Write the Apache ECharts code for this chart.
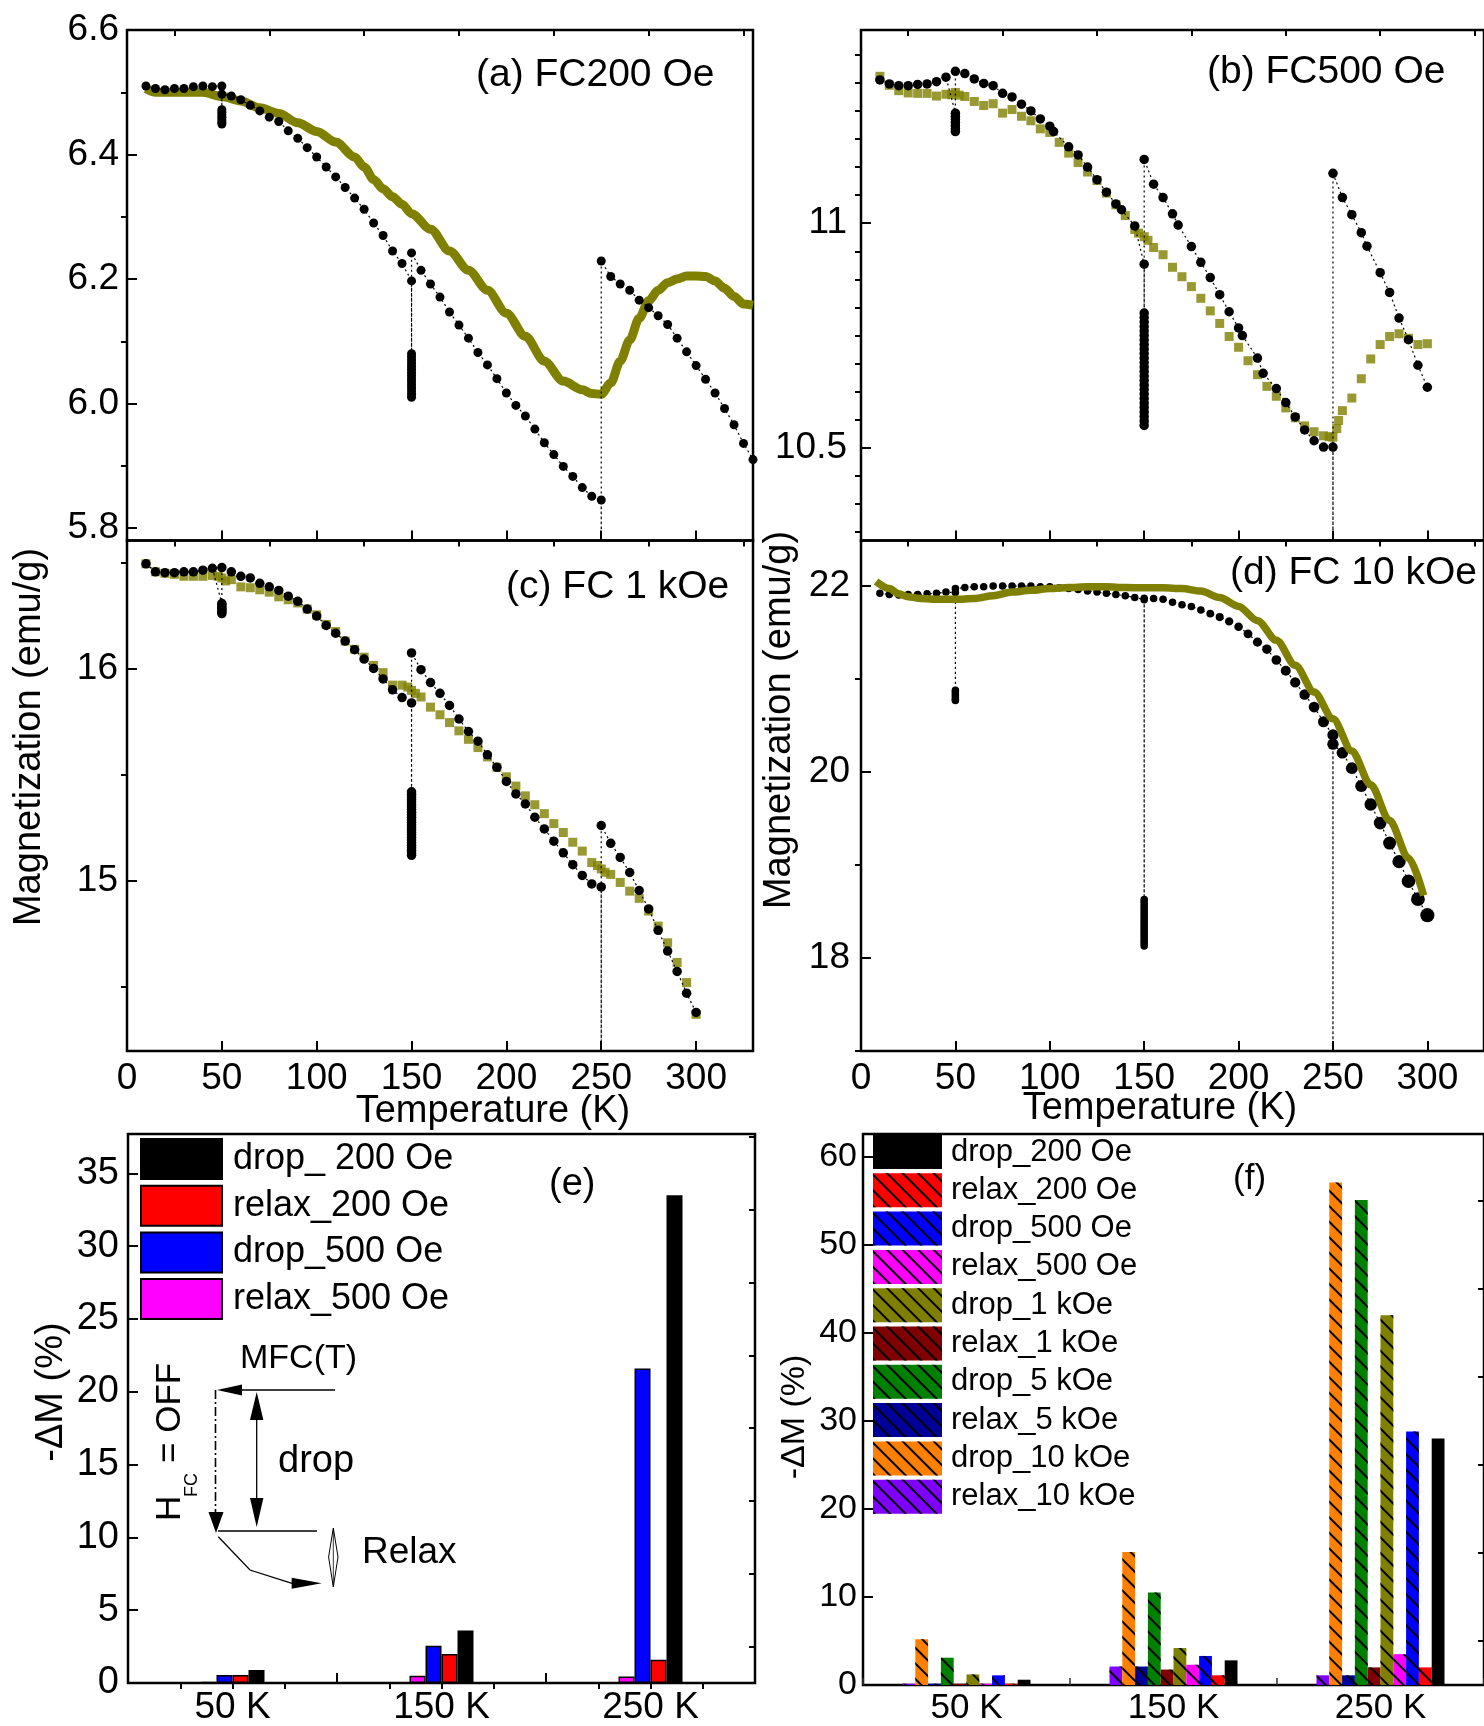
<!DOCTYPE html>
<html><head><meta charset="utf-8">
<script src="https://cdn.jsdelivr.net/npm/echarts@6/dist/echarts.min.js"></script>
<style>html,body{margin:0;padding:0;background:#fff}#c{width:1484px;height:1726px}</style>
</head><body><div id="c"></div><script>
// ---------------- DATA ----------------
// Panel (a) FC 200 Oe : [T (K), M (emu/g)]
const aMeasured = [[10,6.510],[15,6.506],[20,6.504],[25,6.506],[30,6.506],[35,6.509],[40,6.510],[45,6.509],[50,6.510],
 [50,6.472],[50,6.468],[50,6.464],[50,6.460],[50,6.456],[50,6.452],[50,6.449],[50,6.497],
 [55,6.494],[60,6.488],[65,6.479],[70,6.470],[75,6.460],[80,6.453],[85,6.438],[90,6.426],[95,6.411],[100,6.396],
 [105,6.380],[110,6.364],[115,6.347],[120,6.330],[125,6.312],[130,6.290],[135,6.270],[140,6.245],[145,6.225],[150,6.197],
 [150,6.080],[150,6.075],[150,6.070],[150,6.065],[150,6.060],[150,6.055],[150,6.050],[150,6.045],[150,6.040],[150,6.035],
 [150,6.030],[150,6.025],[150,6.020],[150,6.015],[150,6.010],[150,6.242],
 [155,6.214],[160,6.192],[165,6.171],[170,6.147],[175,6.126],[180,6.105],[185,6.082],[190,6.062],[195,6.040],[200,6.017],
 [205,5.997],[210,5.980],[215,5.959],[220,5.937],[225,5.918],[230,5.899],[235,5.883],[240,5.865],[245,5.851],[250,5.845],
 [250,5.760],[250,6.229],
 [255,6.204],[260,6.192],[265,6.182],[270,6.166],[275,6.154],[280,6.141],[285,6.127],[290,6.105],[295,6.083],[300,6.061],
 [305,6.039],[310,6.017],[315,5.992],[320,5.966],[325,5.936],[330,5.910]];
const aReference = [[10,6.506],[15,6.500],[20,6.500],[30,6.500],[40,6.500],[50,6.493],[60,6.486],[70,6.475],[80,6.466],[90,6.451],
 [100,6.437],[110,6.420],[120,6.396],[125,6.380],[130,6.360],[135,6.345],[140,6.332],[145,6.320],[150,6.305],[160,6.280],[170,6.245],
 [180,6.214],[190,6.182],[200,6.145],[210,6.108],[220,6.068],[230,6.036],[240,6.022],[245,6.016],[250,6.015],[255,6.033],
 [260,6.068],[265,6.102],[270,6.137],[275,6.165],[280,6.182],[285,6.194],[290,6.200],[295,6.205],[300,6.205],[305,6.204],
 [310,6.197],[315,6.185],[320,6.172],[325,6.160],[330,6.158]];

// Panel (b) FC 500 Oe
const bMeasured = [[10,11.319],[15,11.310],[20,11.306],[25,11.306],[30,11.309],[35,11.310],[40,11.315],[45,11.325],
 [50,11.245],[50,11.238],[50,11.231],[50,11.224],[50,11.217],[50,11.210],[50,11.204],[50,11.338],
 [55,11.333],[60,11.321],[65,11.311],[70,11.306],[75,11.289],[80,11.281],[85,11.265],[90,11.250],[95,11.232],[100,11.216],
 [102,11.204],[110,11.170],[115,11.152],[120,11.125],[125,11.097],[130,11.069],[135,11.043],[138,11.030],[145,10.994],[150,10.909],
 [150,10.800],[150,10.790],[150,10.780],[150,10.770],[150,10.760],[150,10.750],[150,10.740],[150,10.730],[150,10.720],[150,10.710],
 [150,10.700],[150,10.690],[150,10.680],[150,10.670],[150,10.660],[150,10.650],[150,10.640],[150,10.630],[150,10.620],[150,10.610],
 [150,10.600],[150,10.590],[150,10.580],[150,10.570],[150,10.560],[150,10.550],[150,11.142],
 [155,11.087],[160,11.057],[165,11.021],[168,10.996],[175,10.948],[180,10.913],[185,10.879],[190,10.841],[195,10.803],[200,10.767],
 [202,10.750],[210,10.700],[213,10.666],[220,10.632],[225,10.601],[230,10.569],[235,10.540],[240,10.516],[245,10.502],[250,10.502],
 [250,10.260],[250,11.111],
 [255,11.057],[260,11.019],[265,10.979],[268,10.949],[275,10.890],[280,10.846],[285,10.789],[290,10.741],[295,10.684],[300,10.635]];
const bReference = [[10,11.327],[15,11.307],[20,11.295],[25,11.290],[30,11.289],[35,11.289],[40,11.283],[45,11.287],[48,11.286],
 [50,11.291],[52,11.285],[55,11.282],[60,11.271],[65,11.262],[70,11.266],[75,11.245],[80,11.253],[85,11.238],[90,11.228],[95,11.210],
 [100,11.202],[105,11.180],[110,11.156],[115,11.135],[120,11.114],[125,11.095],[130,11.067],[135,11.041],[140,11.017],[145,10.986],
 [147,10.978],[150,10.970],[152,10.962],[155,10.946],[160,10.930],[165,10.902],[170,10.881],[175,10.859],[180,10.833],[185,10.805],
 [190,10.777],[195,10.748],[200,10.724],[205,10.694],[210,10.663],[215,10.637],[220,10.615],[225,10.589],[230,10.567],[235,10.549],
 [240,10.536],[245,10.527],[248,10.525],[250,10.524],[252,10.543],[253,10.561],[255,10.583],[260,10.611],[265,10.654],[270,10.698],
 [275,10.730],[280,10.748],[285,10.754],[290,10.744],[295,10.730],[300,10.732]];

// Panel (c) FC 1 kOe
const cMeasured = [[10,16.497],[15,16.459],[20,16.455],[25,16.455],[30,16.459],[35,16.459],[40,16.467],[45,16.476],
 [50,16.310],[50,16.302],[50,16.294],[50,16.286],[50,16.278],[50,16.270],[50,16.262],[50,16.479],
 [55,16.459],[60,16.438],[65,16.430],[70,16.405],[75,16.388],[80,16.371],[85,16.344],[90,16.320],[95,16.283],[100,16.250],
 [105,16.206],[110,16.169],[115,16.132],[120,16.091],[125,16.047],[130,16.003],[135,15.953],[140,15.902],[145,15.865],[150,15.840],
 [150,15.420],[150,15.408],[150,15.396],[150,15.384],[150,15.372],[150,15.360],[150,15.348],[150,15.336],[150,15.324],[150,15.312],
 [150,15.300],[150,15.288],[150,15.276],[150,15.264],[150,15.252],[150,15.240],[150,15.228],[150,15.216],[150,15.204],[150,15.192],
 [150,15.180],[150,15.168],[150,15.156],[150,15.144],[150,15.132],[150,15.120],[150,16.076],
 [155,15.997],[160,15.936],[165,15.885],[170,15.828],[175,15.764],[180,15.705],[185,15.659],[190,15.595],[195,15.536],[200,15.469],
 [205,15.410],[210,15.363],[215,15.300],[220,15.245],[225,15.187],[230,15.132],[235,15.076],[240,15.025],[245,14.985],[250,14.971],
 [250,14.100],[250,15.261],
 [255,15.177],[260,15.110],[265,15.039],[270,14.954],[275,14.867],[280,14.766],[285,14.668],[290,14.572],[295,14.469],[300,14.378]];
const cReference = [[10,16.497],[15,16.459],[20,16.452],[25,16.447],[30,16.438],[35,16.438],[40,16.438],[45,16.442],[48,16.438],
 [50,16.430],[52,16.416],[55,16.422],[60,16.388],[65,16.384],[70,16.374],[75,16.363],[80,16.341],[85,16.327],[90,16.312],[95,16.283],
 [100,16.256],[105,16.211],[110,16.177],[115,16.132],[120,16.093],[125,16.056],[130,16.017],[135,15.983],[140,15.924],[145,15.924],
 [148,15.915],[150,15.899],[152,15.885],[155,15.868],[160,15.820],[165,15.784],[170,15.747],[175,15.708],[180,15.668],[185,15.629],
 [190,15.585],[195,15.536],[200,15.491],[205,15.447],[210,15.401],[215,15.359],[220,15.317],[225,15.270],[230,15.228],[235,15.182],
 [240,15.140],[245,15.086],[248,15.072],[250,15.056],[252,15.040],[255,15.030],[260,14.992],[265,14.951],[270,14.917],[275,14.857],
 [280,14.786],[285,14.707],[290,14.614],[295,14.519],[300,14.369]];

// Panel (d) FC 10 kOe
const dMeasured = [[10,21.923],[15,21.908],[20,21.904],[25,21.908],[30,21.908],[35,21.916],[40,21.923],[45,21.935],[50,21.930],
 [50,20.880],[50,20.860],[50,20.840],[50,20.820],[50,20.800],[50,20.780],[50,20.770],[50,21.973],
 [55,21.985],[60,21.992],[65,21.992],[70,22.000],[75,22.000],[80,22.000],[85,22.000],[90,22.000],[95,21.992],[100,21.992],
 [105,21.981],[110,21.973],[115,21.962],[120,21.946],[125,21.935],[130,21.923],[135,21.908],[140,21.896],[145,21.877],[150,21.854],
 [150,18.630],[150,18.605],[150,18.580],[150,18.555],[150,18.530],[150,18.505],[150,18.480],[150,18.455],[150,18.430],[150,18.405],
 [150,18.380],[150,18.355],[150,18.330],[150,18.305],[150,18.280],[150,18.255],[150,18.230],[150,18.205],[150,18.180],[150,18.155],[150,18.130],
 [150,21.870],
 [155,21.866],[160,21.858],[165,21.827],[170,21.800],[175,21.781],[180,21.743],[185,21.704],[190,21.666],[195,21.620],[200,21.562],
 [205,21.486],[210,21.397],[215,21.321],[220,21.205],[225,21.090],[230,20.964],[235,20.833],[240,20.699],[245,20.541],[250,20.399],
 [250,16.900],[250,20.300],
 [255,20.207],[260,20.042],[265,19.850],[270,19.651],[275,19.451],[280,19.236],[285,19.036],[290,18.825],[295,18.633],[300,18.461]];
const dReference = [[8,22.050],[15,21.973],[20,21.916],[25,21.885],[30,21.870],[40,21.858],[50,21.858],[60,21.866],[70,21.896],
 [80,21.935],[90,21.954],[100,21.973],[110,21.985],[120,21.992],[130,21.992],[140,21.985],[150,21.981],[160,21.981],[170,21.973],
 [180,21.946],[190,21.877],[200,21.781],[210,21.628],[220,21.417],[230,21.148],[240,20.860],[250,20.572],[260,20.226],[270,19.862],
 [280,19.478],[290,19.075],[298,18.672]];

// Panel (e) -ΔM (%)
const barCategories = ['50 K', '150 K', '250 K'];
const eDrop200 = [0.9, 3.6, 33.5];
const eRelax200 = [0.55, 2.0, 1.6];
const eDrop500 = [0.55, 2.55, 21.6];
const eRelax500 = [0.08, 0.5, 0.45];

// Panel (f) -ΔM (%)
const fDrop200 = [0.6, 2.8, 28.0];
const fRelax200 = [0.15, 1.1, 2.0];
const fDrop500 = [1.1, 3.3, 28.8];
const fRelax500 = [0.15, 2.3, 3.5];
const fDrop1k = [1.2, 4.2, 42.0];
const fRelax1k = [0.15, 1.75, 2.0];
const fDrop5k = [3.1, 10.5, 55.1];
const fRelax5k = [0.15, 2.1, 1.1];
const fDrop10k = [5.2, 15.1, 57.1];
const fRelax10k = [0.15, 2.1, 1.1];

// Tick values
const tempTicks = [0, 50, 100, 150, 200, 250, 300];
const tempMinor = [25, 75, 125, 175, 225, 275, 325];
const aTicks = [5.8, 6.0, 6.2, 6.4, 6.6];
const aMinor = [5.9, 6.1, 6.3, 6.5];
const bTicks = [10.5, 11];
const bMinor = [10.3125, 10.375, 10.4375, 10.5625, 10.625, 10.6875, 10.75, 10.8125, 10.875, 10.9375,
  11.0625, 11.125, 11.1875, 11.25, 11.3125, 11.375];
const cTicks = [15, 16];
const cMinor = [14.5, 15.5, 16.5];
const dTicks = [18, 20, 22];
const dMinor = [17, 19, 21];
const eTicks = [0, 5, 10, 15, 20, 25, 30, 35];
const eMinor = [2.5, 7.5, 12.5, 17.5, 22.5, 27.5, 32.5, 37.5];
const eMinorX = [0.25, 0.5, 0.75, 1.25, 1.5, 1.75, 2.25, 2.5, 2.75];
const fTicks = [0, 10, 20, 30, 40, 50, 60];
const fMinor = [5, 15, 25, 35, 45, 55];

// ---------------- CHART ----------------
const FONT = '"Liberation Sans", Arial, Helvetica, sans-serif';
const OLIVE = '#808000';
const chart = echarts.init(document.getElementById('c'), null, {renderer: 'canvas'});

const grids = [
  {left: 127, top: 30, width: 626, height: 510.5},     // a
  {left: 861, top: 30, width: 626, height: 510.5},     // b
  {left: 127, top: 540.5, width: 626, height: 510.5},  // c
  {left: 861, top: 540.5, width: 626, height: 510.5},  // d
  {left: 128, top: 1134, width: 627, height: 552},     // e
  {left: 863, top: 1134, width: 624, height: 552}      // f
].map(g => Object.assign({show: true, borderColor: '#000', borderWidth: 2.5, backgroundColor: 'transparent'}, g));

const xAxes = [], yAxes = [];
const tickLine = {color: '#000', width: 2};
function valueAxisPair(list, grid, min, max, major, minor, showLabel, labelOpts) {
  list.push({
    type: 'value', gridIndex: grid, min: min, max: max,
    axisLine: {show: false}, splitLine: {show: false},
    axisTick: {show: true, inside: true, length: 10, customValues: major, lineStyle: tickLine},
    axisLabel: showLabel ? Object.assign({show: true, customValues: major, color: '#000',
      fontFamily: FONT, fontSize: 37, margin: 10}, labelOpts || {}) : {show: false}
  });
  const idx = list.length - 1;
  list.push({
    type: 'value', gridIndex: grid, min: min, max: max,
    axisLine: {show: false}, splitLine: {show: false}, axisLabel: {show: false},
    axisTick: {show: true, inside: true, length: 6, customValues: minor, lineStyle: tickLine}
  });
  return idx;
}

const xa = valueAxisPair(xAxes, 0, 0, 330, tempTicks, tempMinor, false);
const xb = valueAxisPair(xAxes, 1, 0, 330, tempTicks, tempMinor, false);
const xc = valueAxisPair(xAxes, 2, 0, 330, tempTicks, tempMinor, true, {margin: 9});
const xd = valueAxisPair(xAxes, 3, 0, 330, tempTicks, tempMinor, true, {margin: 9});
const ya = valueAxisPair(yAxes, 0, 5.78, 6.6, aTicks, aMinor, true, {formatter: v => Number(v).toFixed(1), margin: 8});
const yb = valueAxisPair(yAxes, 1, 10.294, 11.43, bTicks, bMinor, true, {margin: 14});
const yc = valueAxisPair(yAxes, 2, 14.196, 16.607, cTicks, cMinor, true, {margin: 9});
const yd = valueAxisPair(yAxes, 3, 17.0, 22.49, dTicks, dMinor, true, {margin: 11});
const ye = valueAxisPair(yAxes, 4, 0, 37.7, eTicks, eMinor, true, {margin: 9, fontSize: 38});
const yf = valueAxisPair(yAxes, 5, 0, 62.6, fTicks, fMinor, true, {margin: 6, fontSize: 34});

xAxes.push({type: 'category', gridIndex: 4, data: barCategories,
  axisLine: {show: false}, splitLine: {show: false},
  axisTick: {show: true, inside: true, length: 10, lineStyle: tickLine},
  axisLabel: {color: '#000', fontFamily: FONT, fontSize: 37, margin: 6}});
const xe = xAxes.length - 1;
xAxes.push({type: 'value', gridIndex: 4, min: 0, max: 3,
  axisLine: {show: false}, splitLine: {show: false}, axisLabel: {show: false},
  axisTick: {show: true, inside: true, length: 6, customValues: eMinorX, lineStyle: tickLine}});
xAxes.push({type: 'category', gridIndex: 5, data: barCategories,
  axisLine: {show: false}, splitLine: {show: false},
  axisTick: {show: true, inside: true, length: 7, lineStyle: {color: '#333', width: 1.5}},
  axisLabel: {color: '#000', fontFamily: FONT, fontSize: 35, margin: 6}});
const xf = xAxes.length - 1;

const series = [];
function measured(data, xi, yi, size, z) {
  return {type: 'line', xAxisIndex: xi, yAxisIndex: yi, data: data, clip: true,
    symbol: 'circle', symbolSize: size, showAllSymbol: true, z: z,
    itemStyle: {color: '#000'}, lineStyle: {color: '#000', width: 1.2, type: [2, 3]}, animation: false};
}
function refLine(data, xi, yi, z, w) {
  return {type: 'line', xAxisIndex: xi, yAxisIndex: yi, data: data, clip: true, showSymbol: false,
    smooth: 0.3, smoothMonotone: 'x', z: z,
    lineStyle: {color: OLIVE, width: w}, animation: false};
}
function refSquares(data, xi, yi, z) {
  return {type: 'scatter', xAxisIndex: xi, yAxisIndex: yi, data: data, symbol: 'rect', symbolSize: 9, z: z,
    itemStyle: {color: OLIVE}, animation: false};
}
series.push(refLine(aReference, xa, ya, 2, 9));
series.push(measured(aMeasured, xa, ya, 9, 3));
series.push(refSquares(bReference, xb, yb, 2));
series.push(measured(bMeasured, xb, yb, 9.5, 3));
series.push(refSquares(cReference, xc, yc, 2));
series.push(measured(cMeasured, xc, yc, 9.5, 3));
series.push(measured(dMeasured, xd, yd, v => v[0] < 180 ? 7.5 : 7.5 + (v[0] - 180) * 0.055, 2));
series.push(refLine(dReference, xd, yd, 3, 7.5));

// (e) bars: left-to-right order magenta, blue, red, black
const eBar = (name, data, color) => ({name: name, type: 'bar', xAxisIndex: xe, yAxisIndex: ye, data: data,
  barWidth: 16, barGap: '0%', itemStyle: {color: color, borderColor: '#000', borderWidth: 1.5}, animation: false});
series.push(eBar('relax_500 Oe', eRelax500, '#FF00FF'));
series.push(eBar('drop_500 Oe', eDrop500, '#0000FF'));
series.push(eBar('relax_200 Oe', eRelax200, '#FF0000'));
series.push(eBar('drop_ 200 Oe', eDrop200, '#000000'));

// (f) bars (hatched)
const ZW = '\u200B';
const hatch = {symbol: 'rect', symbolSize: 1, dashArrayX: [1, 0], dashArrayY: [2, 9], rotation: Math.PI / 4, color: '#000'};
const fBar = (name, data, color, hatched) => ({name: name + ZW, type: 'bar', xAxisIndex: xf, yAxisIndex: yf, data: data,
  barWidth: 12.8, barGap: '0%', itemStyle: Object.assign({color: color, borderWidth: 0}, hatched ? {decal: hatch} : {}),
  animation: false});
series.push(fBar('relax_10 kOe', fRelax10k, '#8000FF', true));
series.push(fBar('drop_10 kOe', fDrop10k, '#FF8000', true));
series.push(fBar('relax_5 kOe', fRelax5k, '#000099', true));
series.push(fBar('drop_5 kOe', fDrop5k, '#008000', true));
series.push(fBar('relax_1 kOe', fRelax1k, '#800000', true));
series.push(fBar('drop_1 kOe', fDrop1k, '#808000', true));
series.push(fBar('relax_500 Oe', fRelax500, '#FF00FF', true));
series.push(fBar('drop_500 Oe', fDrop500, '#0000FF', true));
series.push(fBar('relax_200 Oe', fRelax200, '#FF0000', true));
series.push(fBar('drop_200 Oe', fDrop200, '#000000', false));

const eLegend = ['drop_ 200 Oe', 'relax_200 Oe', 'drop_500 Oe', 'relax_500 Oe'];
const fLegend = ['drop_200 Oe', 'relax_200 Oe', 'drop_500 Oe', 'relax_500 Oe', 'drop_1 kOe', 'relax_1 kOe',
  'drop_5 kOe', 'relax_5 kOe', 'drop_10 kOe', 'relax_10 kOe'].map(n => n + ZW);

// ---------------- TEXT / ANNOTATIONS ----------------
function txt(s, x, y, size, opts) {
  return Object.assign({type: 'text', x: x, y: y, z: 100,
    style: Object.assign({text: s, fontFamily: FONT, fontSize: size, fill: '#000', align: 'left', verticalAlign: 'middle'},
      (opts && opts.style) || {})}, (opts && opts.el) || {});
}
const rot = {el: {rotation: Math.PI / 2}, style: {align: 'center'}};
const blk = {stroke: '#000', lineWidth: 1.3, fill: null};
const graphic = [
  txt('(a) FC200 Oe', 476, 75, 39),
  txt('(b) FC500 Oe', 1207, 72, 39),
  txt('(c) FC 1 kOe', 506, 587, 39),
  txt('(d) FC 10 kOe', 1230, 573, 39),
  txt('(e)', 549, 1185, 38),
  txt('(f)', 1233, 1179, 35),
  txt('Magnetization (emu/g)', 30, 737, 38, rot),
  txt('Magnetization (emu/g)', 780, 720, 38, rot),
  txt('Temperature (K)', 493, 1112, 38, {style: {align: 'center'}}),
  txt('Temperature (K)', 1160, 1109, 38, {style: {align: 'center'}}),
  txt('-ΔM (%)', 52, 1392, 38, rot),
  txt('-ΔM (%)', 795, 1417, 34, rot),
  // schematic in (e)
  txt('MFC(T)', 240, 1359, 34),
  txt('drop', 278, 1462, 38),
  txt('Relax', 362, 1553, 37),
  txt('H', 170, 1521, 35, {el: {rotation: Math.PI / 2}}),
  txt('FC', 192, 1497, 18, {el: {rotation: Math.PI / 2}}),
  txt('= OFF', 170, 1463, 35, {el: {rotation: Math.PI / 2}}),
  {type: 'line', z: 100, shape: {x1: 230, y1: 1390, x2: 335, y2: 1390}, style: blk},
  {type: 'polygon', z: 100, shape: {points: [[217, 1390], [242, 1384.5], [242, 1395.5]]}, style: {fill: '#000'}},
  {type: 'line', z: 100, shape: {x1: 215.5, y1: 1390, x2: 215.5, y2: 1514}, style: {stroke: '#000', lineWidth: 1.6, lineDash: [9, 3, 2, 3]}},
  {type: 'polygon', z: 100, shape: {points: [[216, 1533], [208.5, 1512], [223.5, 1512]]}, style: {fill: '#000'}},
  {type: 'line', z: 100, shape: {x1: 256.7, y1: 1400, x2: 256.7, y2: 1520}, style: blk},
  {type: 'polygon', z: 100, shape: {points: [[256.7, 1392], [250, 1420], [263.4, 1420]]}, style: {fill: '#000'}},
  {type: 'polygon', z: 100, shape: {points: [[256.7, 1527], [250, 1498], [263.4, 1498]]}, style: {fill: '#000'}},
  {type: 'line', z: 100, shape: {x1: 218, y1: 1531, x2: 317, y2: 1531}, style: blk},
  {type: 'polygon', z: 100, shape: {points: [[333.3, 1528], [338, 1557], [333.3, 1587], [328.6, 1557]]}, style: {stroke: '#000', lineWidth: 1, fill: null}},
  {type: 'line', z: 100, shape: {x1: 333.3, y1: 1530, x2: 333.3, y2: 1585}, style: {stroke: '#000', lineWidth: 0.8}},
  {type: 'polyline', z: 100, shape: {points: [[218.3, 1536.7], [250, 1570], [292, 1583.3]]}, style: blk},
  {type: 'polygon', z: 100, shape: {points: [[321.7, 1583.3], [291.7, 1577.8], [291.7, 1588.8]]}, style: {fill: '#000'}}
];

chart.setOption({
  animation: false,
  backgroundColor: '#fff',
  textStyle: {fontFamily: FONT},
  grid: grids,
  xAxis: xAxes,
  yAxis: yAxes,
  legend: [
    {data: eLegend, orient: 'vertical', left: 140, top: 1138, itemWidth: 81, itemHeight: 40, itemGap: 4.7,
      icon: 'rect', padding: 0, selectedMode: false,
      textStyle: {fontFamily: FONT, fontSize: 36, color: '#000', padding: [0, 0, 0, 6]}},
    {data: fLegend, orient: 'vertical', left: 873, top: 1135, itemWidth: 69, itemHeight: 34, itemGap: 4.3,
      icon: 'rect', padding: 0, selectedMode: false, formatter: n => n.replace(/\u200B/g, ''),
      textStyle: {fontFamily: FONT, fontSize: 31, color: '#000', padding: [0, 0, 0, 4]}}
  ],
  series: series,
  graphic: graphic
});
</script></body></html>
